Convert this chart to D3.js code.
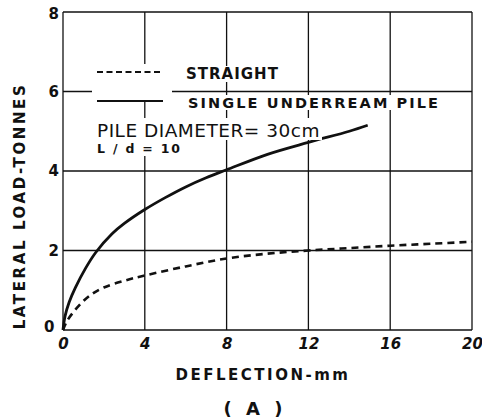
<!DOCTYPE html>
<html><head><meta charset="utf-8">
<script src="https://cdn.jsdelivr.net/npm/d3@7"></script>
<style>body{margin:0;background:#fff;} svg{display:block;}</style>
</head><body>
<svg id="c" width="482" height="420"></svg>
<script>
const xTicks = [0, 4, 8, 12, 16, 20];
const yTicks = [0, 2, 4, 6, 8];
const straightX = [0, 0.15, 0.4, 0.9, 1.4, 2, 3, 4, 6, 8, 10, 12, 14, 16, 18, 20];
const straightY = [0, 0.18, 0.38, 0.68, 0.9, 1.07, 1.24, 1.37, 1.6, 1.8, 1.92, 2.0, 2.06, 2.12, 2.17, 2.22];
const underreamX = [0, 0.1, 0.3, 0.6, 1.1, 1.6, 2.4, 3, 4, 5, 6, 7, 8, 10, 12, 14, 14.9];
const underreamY = [0, 0.35, 0.7, 1.06, 1.55, 1.95, 2.42, 2.68, 3.03, 3.33, 3.6, 3.83, 4.03, 4.42, 4.72, 5.0, 5.15];
const legendLabels = ["STRAIGHT", "SINGLE UNDERREAM PILE"];
const noteMain = "PILE DIAMETER= 30cm";
const noteSub = "L / d = 10";
const xTitle = "DEFLECTION-mm";
const yTitle = "LATERAL LOAD-TONNES";
const caption = "( A )";

const svg = d3.select("#c");
const L = 63, R = 472, T = 12, B = 330;
const x = d3.scaleLinear().domain([0, 20]).range([L, R]);
const y = d3.scaleLinear().domain([0, 8]).range([B, T]);
const ink = "#111";
const font = "'DejaVu Sans', sans-serif";

// grid
const g = svg.append("g");
g.selectAll(".vx").data(xTicks).join("line")
  .attr("x1", d => x(d)).attr("x2", d => x(d)).attr("y1", T).attr("y2", B)
  .attr("stroke", ink).attr("stroke-width", 1.3);
g.selectAll(".hy").data(yTicks).join("line")
  .attr("x1", L).attr("x2", R).attr("y1", d => y(d)).attr("y2", d => y(d))
  .attr("stroke", ink).attr("stroke-width", 1.3);

// axes labels via d3 axes
const xAxis = d3.axisBottom(x).tickValues(xTicks).tickSize(0).tickPadding(8);
const xa = svg.append("g").attr("transform", `translate(0,${B})`).call(xAxis);
xa.select(".domain").remove();
xa.selectAll("text").attr("font-family", font).attr("font-size", 15)
  .attr("font-weight", "bold").attr("font-style", "italic").attr("fill", ink);

const yAxis = d3.axisLeft(y).tickValues(yTicks).tickSize(0).tickPadding(4);
const ya = svg.append("g").attr("transform", `translate(${L},0)`).call(yAxis);
ya.select(".domain").remove();
ya.selectAll("text").attr("font-family", font).attr("font-size", 15)
  .attr("font-weight", "bold").attr("fill", ink);
ya.selectAll(".tick").filter(d => d === 0).select("text").attr("dy", "0.1em").attr("dx", "-0.3em");
ya.selectAll(".tick").filter(d => d === 8).select("text").attr("dy", "0.4em");

// curves
const line = d3.line().x(d => x(d[0])).y(d => y(d[1])).curve(d3.curveCatmullRom.alpha(0.5));
const sData = straightX.map((v, i) => [v, straightY[i]]);
const uData = underreamX.map((v, i) => [v, underreamY[i]]);
svg.append("path").datum(sData).attr("d", line).attr("fill", "none")
  .attr("stroke", ink).attr("stroke-width", 2.6).attr("stroke-dasharray", "7,5");
svg.append("path").datum(uData).attr("d", line).attr("fill", "none")
  .attr("stroke", ink).attr("stroke-width", 2.8);

// legend
const lg = svg.append("g");
lg.append("rect").attr("x", 92).attr("y", 64).attr("width", 80).attr("height", 36).attr("fill", "#fff");
lg.append("rect").attr("x", 182).attr("y", 66).attr("width", 100).attr("height", 16).attr("fill", "#fff");
lg.append("rect").attr("x", 185).attr("y", 95).attr("width", 255).attr("height", 15).attr("fill", "#fff");
lg.append("rect").attr("x", 92).attr("y", 118).attr("width", 230).attr("height", 22).attr("fill", "#fff");
lg.append("rect").attr("x", 92).attr("y", 140).attr("width", 88).attr("height", 16).attr("fill", "#fff");
lg.append("line").attr("x1", 97).attr("x2", 163).attr("y1", 72).attr("y2", 72)
  .attr("stroke", ink).attr("stroke-width", 2.2).attr("stroke-dasharray", "6,3.5");
lg.append("line").attr("x1", 97).attr("x2", 163).attr("y1", 101).attr("y2", 101)
  .attr("stroke", ink).attr("stroke-width", 2.2);
lg.append("text").attr("x", 186).attr("y", 79).text(legendLabels[0])
  .attr("font-family", font).attr("font-size", 15).attr("font-weight", "bold")
  .attr("letter-spacing", 1.0).attr("fill", ink);
lg.append("text").attr("x", 188).attr("y", 108).text(legendLabels[1])
  .attr("font-family", font).attr("font-size", 14.5).attr("font-weight", "bold")
  .attr("letter-spacing", 2.1).attr("fill", ink);
lg.append("text").attr("x", 97).attr("y", 137).text(noteMain)
  .attr("font-family", font).attr("font-size", 18.5).attr("letter-spacing", 0.5).attr("fill", ink);
lg.append("text").attr("x", 97).attr("y", 153).text(noteSub)
  .attr("font-family", font).attr("font-size", 12.5).attr("font-weight", "bold")
  .attr("letter-spacing", 1.8).attr("xml:space", "preserve").attr("fill", ink);

// titles
svg.append("text").attr("x", 263).attr("y", 380).attr("text-anchor", "middle")
  .text(xTitle).attr("font-family", font).attr("font-size", 15).attr("font-weight", "bold")
  .attr("letter-spacing", 2.5).attr("fill", ink);
svg.append("text").attr("transform", "translate(25,206) rotate(-90)").attr("text-anchor", "middle")
  .text(yTitle).attr("font-family", font).attr("font-size", 15).attr("font-weight", "bold")
  .attr("letter-spacing", 2.6).attr("fill", ink);
svg.append("text").attr("x", 255).attr("y", 415).attr("text-anchor", "middle")
  .text(caption).attr("font-family", font).attr("font-size", 18).attr("font-weight", "bold")
  .attr("letter-spacing", 4).attr("xml:space", "preserve").attr("fill", ink);
</script>
</body></html>
